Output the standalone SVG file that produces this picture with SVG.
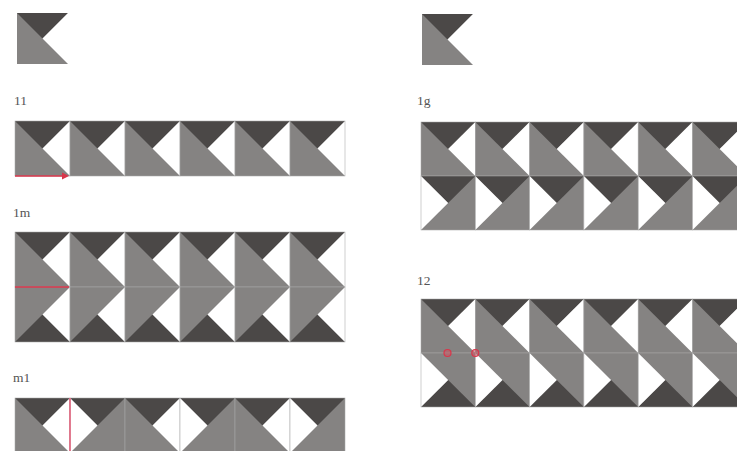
<svg xmlns="http://www.w3.org/2000/svg" xmlns:xlink="http://www.w3.org/1999/xlink" width="737" height="451" viewBox="0 0 737 451">
<style>
.g{fill:#858382}
.d{fill:#4b4847}
.w{fill:#ffffff}
.o{fill:none;stroke:#a8a8a8;stroke-width:1}
.lbl{font-family:"Liberation Serif","DejaVu Serif",serif;font-size:13.5px;fill:#555}
.red{stroke:#d9364b;stroke-width:1.6;fill:none}
</style>
<defs>
<g id="M"><rect class="g" width="100" height="100"/><polygon class="d" points="0,0 100,0 50,50"/><polygon class="w" points="100,0 50,50 100,100"/><rect class="o" width="100" height="100"/></g>
<g id="MX"><rect class="g" width="100" height="100"/><polygon class="d" points="0,0 100,0 50,50"/><polygon class="w" points="0,0 50,50 0,100"/><rect class="o" width="100" height="100"/></g>
<g id="MY"><rect class="g" width="100" height="100"/><polygon class="d" points="0,100 100,100 50,50"/><polygon class="w" points="100,100 50,50 100,0"/><rect class="o" width="100" height="100"/></g>
<g id="MR"><rect class="g" width="100" height="100"/><polygon class="d" points="0,100 100,100 50,50"/><polygon class="w" points="0,100 50,50 0,0"/><rect class="o" width="100" height="100"/></g>
<g id="M0"><rect class="g" width="100" height="100"/><polygon class="d" points="0,0 100,0 50,50"/><polygon class="w" points="100,0 50,50 100,100"/></g>
</defs>

<g id="motif-left"><use href="#M0" transform="translate(17,13) scale(0.51)"/></g>
<g id="motif-right"><use href="#M0" transform="translate(422,14) scale(0.51)"/></g>

<g id="row-11">
<text class="lbl" x="14" y="105">11</text>
<use href="#M" transform="translate(15,121) scale(0.55)"/>
<use href="#M" transform="translate(70,121) scale(0.55)"/>
<use href="#M" transform="translate(125,121) scale(0.55)"/>
<use href="#M" transform="translate(180,121) scale(0.55)"/>
<use href="#M" transform="translate(235,121) scale(0.55)"/>
<use href="#M" transform="translate(290,121) scale(0.55)"/>
</g>

<g id="row-1m">
<text class="lbl" x="13" y="217">1m</text>
<use href="#M" transform="translate(15,232) scale(0.55)"/>
<use href="#M" transform="translate(70,232) scale(0.55)"/>
<use href="#M" transform="translate(125,232) scale(0.55)"/>
<use href="#M" transform="translate(180,232) scale(0.55)"/>
<use href="#M" transform="translate(235,232) scale(0.55)"/>
<use href="#M" transform="translate(290,232) scale(0.55)"/>
<use href="#MY" transform="translate(15,287) scale(0.55)"/>
<use href="#MY" transform="translate(70,287) scale(0.55)"/>
<use href="#MY" transform="translate(125,287) scale(0.55)"/>
<use href="#MY" transform="translate(180,287) scale(0.55)"/>
<use href="#MY" transform="translate(235,287) scale(0.55)"/>
<use href="#MY" transform="translate(290,287) scale(0.55)"/>
</g>

<g id="row-m1">
<text class="lbl" x="13" y="382">m1</text>
<use href="#M" transform="translate(15,398) scale(0.55)"/>
<use href="#MX" transform="translate(70,398) scale(0.55)"/>
<use href="#M" transform="translate(125,398) scale(0.55)"/>
<use href="#MX" transform="translate(180,398) scale(0.55)"/>
<use href="#M" transform="translate(235,398) scale(0.55)"/>
<use href="#MX" transform="translate(290,398) scale(0.55)"/>
</g>

<g id="row-1g">
<text class="lbl" x="417" y="105">1g</text>
<use href="#M" transform="translate(421,122) scale(0.543,0.54)"/>
<use href="#M" transform="translate(475.3,122) scale(0.543,0.54)"/>
<use href="#M" transform="translate(529.6,122) scale(0.543,0.54)"/>
<use href="#M" transform="translate(583.9,122) scale(0.543,0.54)"/>
<use href="#M" transform="translate(638.2,122) scale(0.543,0.54)"/>
<use href="#M" transform="translate(692.5,122) scale(0.543,0.54)"/>
<use href="#MX" transform="translate(421,176) scale(0.543,0.54)"/>
<use href="#MX" transform="translate(475.3,176) scale(0.543,0.54)"/>
<use href="#MX" transform="translate(529.6,176) scale(0.543,0.54)"/>
<use href="#MX" transform="translate(583.9,176) scale(0.543,0.54)"/>
<use href="#MX" transform="translate(638.2,176) scale(0.543,0.54)"/>
<use href="#MX" transform="translate(692.5,176) scale(0.543,0.54)"/>
</g>

<g id="row-12">
<text class="lbl" x="417" y="285">12</text>
<use href="#M" transform="translate(421,299) scale(0.543,0.54)"/>
<use href="#M" transform="translate(475.3,299) scale(0.543,0.54)"/>
<use href="#M" transform="translate(529.6,299) scale(0.543,0.54)"/>
<use href="#M" transform="translate(583.9,299) scale(0.543,0.54)"/>
<use href="#M" transform="translate(638.2,299) scale(0.543,0.54)"/>
<use href="#M" transform="translate(692.5,299) scale(0.543,0.54)"/>
<use href="#MR" transform="translate(421,353) scale(0.543,0.54)"/>
<use href="#MR" transform="translate(475.3,353) scale(0.543,0.54)"/>
<use href="#MR" transform="translate(529.6,353) scale(0.543,0.54)"/>
<use href="#MR" transform="translate(583.9,353) scale(0.543,0.54)"/>
<use href="#MR" transform="translate(638.2,353) scale(0.543,0.54)"/>
<use href="#MR" transform="translate(692.5,353) scale(0.543,0.54)"/>
</g>

<g id="annotations">
<line class="red" x1="15" y1="176" x2="63" y2="176"/>
<polygon points="62,172.5 69,176 62,179.5" fill="#d9364b"/>
<line class="red" x1="15" y1="287" x2="69" y2="287"/>
<line x1="70" y1="398" x2="70" y2="451" stroke="#e0607a" stroke-width="1.6"/>
<circle cx="447.5" cy="353" r="3.5" fill="#c85a66" fill-opacity="0.6" stroke="#d9364b" stroke-width="1.2"/>
<circle cx="475.3" cy="353" r="3.5" fill="#c85a66" fill-opacity="0.6" stroke="#d9364b" stroke-width="1.2"/>
</g>
</svg>
